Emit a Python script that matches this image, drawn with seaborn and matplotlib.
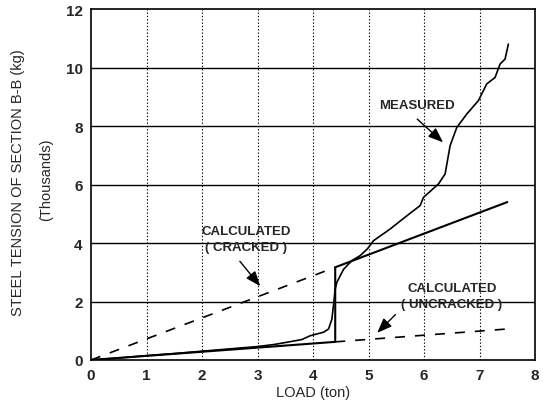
import matplotlib
matplotlib.use("Agg")
import matplotlib.pyplot as plt
import seaborn as sns
import pandas as pd

# Measured steel tension (thousands of kg) against load (ton)
measured_load = [0, 0.5, 1, 1.5, 2, 2.5, 3, 3.3, 3.6, 3.8, 3.95, 4.19, 4.28, 4.34,
                 4.37, 4.40, 4.43, 4.55, 4.70, 4.85, 4.98, 5.09, 5.39, 5.69, 5.93,
                 5.99, 6.26, 6.38, 6.47, 6.59, 6.77, 6.98, 7.13, 7.28, 7.37, 7.46, 7.52]
measured_tension = [0, 0.07, 0.15, 0.22, 0.30, 0.38, 0.46, 0.53, 0.63, 0.70, 0.83, 0.95,
                    1.06, 1.4, 1.9, 2.43, 2.66, 3.1, 3.4, 3.57, 3.8, 4.08, 4.48, 4.93,
                    5.28, 5.56, 6.02, 6.36, 7.33, 7.95, 8.41, 8.87, 9.44, 9.66, 10.12,
                    10.29, 10.8]

# Calculated tension, cracked and uncracked section
calc_load = [0, 4.4, 7.5]
calc_cracked = [0, 3.17, 5.4]
calc_uncracked = [0, 0.62, 1.06]

x_ticks = [0, 1, 2, 3, 4, 5, 6, 7, 8]
y_ticks = [0, 2, 4, 6, 8, 10, 12]

sns.set_style("white")
plt.rcParams["font.family"] = ["Liberation Sans", "DejaVu Sans"]

fig = plt.figure(figsize=(5.53, 4.02), dpi=100)
ax = fig.add_axes([0.1646, 0.102, 0.8029, 0.873])

# Governing calculated curve: uncracked up to cracking load, cracked afterwards
gov = pd.DataFrame({
    "load": [calc_load[0], calc_load[1], calc_load[1], calc_load[2]],
    "tension": [calc_uncracked[0], calc_uncracked[1], calc_cracked[1], calc_cracked[2]],
})
cracked_pre = pd.DataFrame({"load": calc_load[:2], "tension": calc_cracked[:2]})
uncracked_post = pd.DataFrame({"load": calc_load[1:], "tension": calc_uncracked[1:]})
meas = pd.DataFrame({"load": measured_load, "tension": measured_tension})

# grid: solid horizontal, dotted vertical
for yv in y_ticks[1:-1]:
    ax.axhline(yv, color="black", lw=1.0, zorder=1)
for xv in x_ticks[1:-1]:
    ax.axvline(xv, color="black", lw=0.8, ls=(0, (1.2, 1.8)), zorder=1)

sns.lineplot(data=gov, x="load", y="tension", ax=ax, color="black", lw=1.5,
             sort=False, estimator=None, zorder=3)
sns.lineplot(data=cracked_pre, x="load", y="tension", ax=ax, color="black", lw=1.2,
             estimator=None, zorder=3, linestyle=(0, (6, 6)))
sns.lineplot(data=uncracked_post, x="load", y="tension", ax=ax, color="black", lw=1.2,
             estimator=None, zorder=3, linestyle=(0, (6, 6)))
sns.lineplot(data=meas, x="load", y="tension", ax=ax, color="black", lw=1.2,
             sort=False, estimator=None, zorder=4)

ax.set_xlim(0, 8)
ax.set_ylim(0, 12)
ax.set_xticks(x_ticks)
ax.set_yticks(y_ticks)
ax.set_xticklabels([str(v) for v in x_ticks], fontsize=11, fontweight="bold")
ax.set_yticklabels([str(v) for v in y_ticks], fontsize=11, fontweight="bold")
ax.tick_params(axis="both", direction="out", length=4, width=1, color="black", pad=2)
for s in ax.spines.values():
    s.set_color("black")
    s.set_linewidth(1.2)

ax.set_xlabel("LOAD (ton)", fontsize=10.5, labelpad=2)
ax.set_ylabel("")
fig.text(0.033, 0.545, "STEEL TENSION OF SECTION B-B (kg)", rotation=90,
         ha="center", va="center", fontsize=10.5)
fig.text(0.083, 0.552, "(Thousands)", rotation=90, ha="center", va="center", fontsize=10.5)

arrow = dict(arrowstyle="-|>,head_length=0.9,head_width=0.35", color="black", lw=1.0)
lbl = dict(ha="center", va="center", fontsize=9.5, fontweight="bold", linespacing=1.45)
ax.text(5.87, 8.72, "MEASURED", **lbl)
ax.annotate("", xy=(6.38, 7.38), xytext=(5.84, 8.3), arrowprops=arrow)
ax.text(2.8, 4.15, "CALCULATED\n( CRACKED )", **lbl)
ax.annotate("", xy=(3.08, 2.45), xytext=(2.65, 3.45), arrowprops=arrow)
ax.text(6.5, 2.2, "CALCULATED\n( UNCRACKED )", **lbl)
ax.annotate("", xy=(5.12, 0.86), xytext=(5.52, 1.62), arrowprops=arrow)

fig.savefig("out.png", dpi=100)
